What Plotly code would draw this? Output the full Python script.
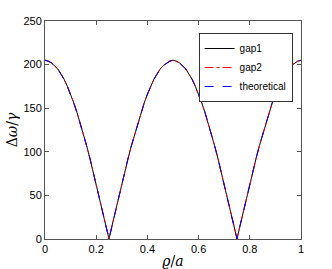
import plotly.graph_objects as go

rho = [i * 0.0125 for i in range(81)]
gap1 = [205, 204, 202, 199, 195, 189, 183, 175, 166, 156, 145, 133, 120, 107, 93, 78, 63, 48, 32, 16, 0,
        16, 32, 48, 63, 78, 93, 107, 120, 133, 145, 156, 166, 175, 183, 189, 195, 199, 202, 204, 205,
        204, 202, 199, 195, 189, 183, 175, 166, 156, 145, 133, 120, 107, 93, 78, 63, 48, 32, 16, 0,
        16, 32, 48, 63, 78, 93, 107, 120, 133, 145, 156, 166, 175, 183, 189, 195, 199, 202, 204, 205]
gap2 = [205, 204, 202, 199, 195, 189, 183, 175, 166, 156, 145, 133, 120, 107, 93, 78, 63, 48, 32, 16, 1,
        16, 32, 48, 63, 78, 93, 107, 120, 133, 145, 156, 166, 175, 183, 189, 195, 199, 202, 204, 205,
        204, 202, 199, 195, 189, 183, 175, 166, 156, 145, 133, 120, 107, 93, 78, 63, 48, 32, 16, 1,
        16, 32, 48, 63, 78, 93, 107, 120, 133, 145, 156, 166, 175, 183, 189, 195, 199, 202, 204, 205]
theoretical = [205, 204, 202, 199, 195, 189, 183, 175, 166, 156, 145, 133, 120, 107, 93, 78, 63, 48, 32, 16, 0,
               16, 32, 48, 63, 78, 93, 107, 120, 133, 145, 156, 166, 175, 183, 189, 195, 199, 202, 204, 205,
               204, 202, 199, 195, 189, 183, 175, 166, 156, 145, 133, 120, 107, 93, 78, 63, 48, 32, 16, 0,
               16, 32, 48, 63, 78, 93, 107, 120, 133, 145, 156, 166, 175, 183, 189, 195, 199, 202, 204, 205]

fig = go.Figure()
fig.add_trace(go.Scatter(x=rho, y=gap1, mode="lines", name="gap1",
                         line=dict(color="black", width=1)))
fig.add_trace(go.Scatter(x=rho, y=gap2, mode="lines", name="gap2",
                         line=dict(color="red", width=1, dash="dashdot")))
fig.add_trace(go.Scatter(x=rho, y=theoretical, mode="lines", name="theoretical",
                         line=dict(color="blue", width=1, dash="dash")))

axis_common = dict(showgrid=False, zeroline=False, showline=True, mirror="ticks",
                   linecolor="#555", linewidth=1, ticks="inside", ticklen=4, automargin=False,
                   tickcolor="#555", tickfont=dict(family="Liberation Sans, Arial", size=11, color="black"))

fig.update_layout(
    width=332, height=269,
    margin=dict(l=45, r=31, t=21, b=30, autoexpand=False),
    paper_bgcolor="white", plot_bgcolor="white",
    showlegend=True,
    legend=dict(x=0.6, y=0.945, xanchor="left", yanchor="top",
                bgcolor="white", bordercolor="#333", borderwidth=1,
                font=dict(family="Liberation Sans, Arial", size=10, color="black"),
                tracegroupgap=0, itemwidth=30),
    xaxis=dict(range=[0, 1], tickvals=[0, 0.2, 0.4, 0.6, 0.8, 1],
               ticktext=["0", "0.2", "0.4", "0.6", "0.8", "1"],
               title=dict(text="<i>ϱ</i>/<i>a</i>", standoff=2,
                          font=dict(family="DejaVu Serif", size=14, color="black")),
               **axis_common),
    yaxis=dict(range=[0, 250], tickvals=[0, 50, 100, 150, 200, 250],
               title=dict(text="Δ<i>ω</i>/<i>γ</i>", standoff=2,
                          font=dict(family="DejaVu Serif", size=14, color="black")),
               **axis_common),
)

fig.write_html("out.html", config={"displayModeBar": False},
               post_script="document.body.style.margin='0';document.body.style.overflow='hidden';")
